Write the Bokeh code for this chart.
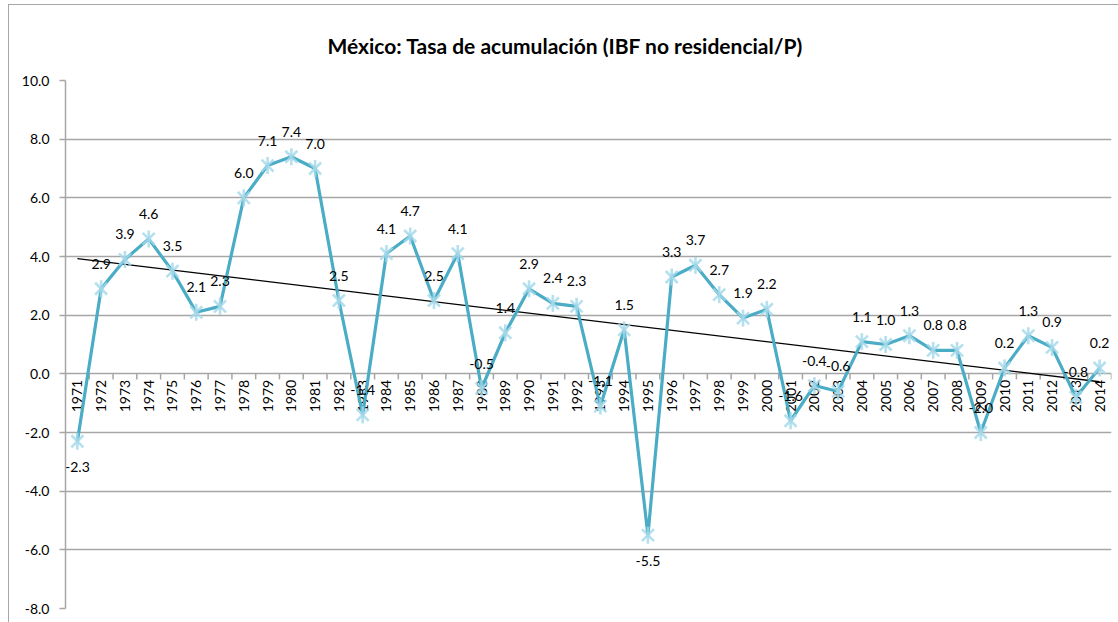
import numpy as np
from bokeh.plotting import figure
from bokeh.models import FactorRange, Range1d, FixedTicker, NumeralTickFormatter, ColumnDataSource
from bokeh.core.properties import value
from bokeh.embed import file_html
from bokeh.resources import INLINE

years = [str(y) for y in range(1971, 2015)]
tasa = [-2.3, 2.9, 3.9, 4.6, 3.5, 2.1, 2.3, 6.0, 7.1, 7.4,
        7.0, 2.5, -1.4, 4.1, 4.7, 2.5, 4.1, -0.5, 1.4, 2.9,
        2.4, 2.3, -1.1, 1.5, -5.5, 3.3, 3.7, 2.7, 1.9, 2.2,
        -1.6, -0.4, -0.6, 1.1, 1.0, 1.3, 0.8, 0.8, -2.0, 0.2,
        1.3, 0.9, -0.8, 0.2]
y_ticks = [-8, -6, -4, -2, 0, 2, 4, 6, 8, 10]
labels_below = ["1971", "1995"]

TITLE = "México: Tasa de acumulación (IBF no residencial/P)"
FONT = "Lato"

p = figure(width=1110, height=618, x_range=FactorRange(*years, range_padding=0),
           y_range=Range1d(-8, 10), output_backend="svg", toolbar_location=None,
           min_border_left=56, min_border_right=8, min_border_top=75, min_border_bottom=15,
           title=TITLE)
p.margin = (4, 0, 0, 8)
p.stylesheets = [":host { border-top: 1px solid #A6A6A6; border-left: 1px solid #A6A6A6; }"]
p.title.text_font = FONT
p.title.text_font_size = "21px"
p.title.text_font_style = "bold"
p.title.text_color = "#000000"
p.title.align = "left"
p.title.offset = 262
p.title.standoff = 45

p.outline_line_color = None
p.xgrid.grid_line_color = None
p.ygrid.grid_line_color = "#A6A6A6"
p.ygrid.grid_line_width = 1.5
p.ygrid.ticker = FixedTicker(ticks=y_ticks)

p.xaxis.visible = False
ya = p.yaxis[0]
ya.ticker = FixedTicker(ticks=y_ticks)
ya.formatter = NumeralTickFormatter(format="0.0")
ya.axis_line_color = "#A6A6A6"
ya.axis_line_width = 1.5
ya.major_tick_line_color = "#A6A6A6"
ya.major_tick_line_width = 1.5
ya.major_tick_out = 6
ya.major_tick_in = 0
ya.minor_tick_line_color = None
ya.major_label_text_font = FONT
ya.major_label_text_font_size = "14px"
ya.major_label_text_color = "#000000"
ya.major_label_standoff = 10

# category axis drawn at y = 0
idx = np.arange(len(years))
bounds = np.arange(len(years) + 1)
p.segment(x0=bounds, y0=0, x1=bounds, y1=-0.19, line_color="#A6A6A6", line_width=1.5)
p.text(x=years, y=[0] * len(years), text=years, angle=np.pi / 2,
       text_align="right", text_baseline="middle", y_offset=6,
       text_font=value(FONT), text_font_size="14px", text_color="#000000")

# trend line (least squares on the series)
slope, intercept = np.polyfit(idx, np.array(tasa), 1)
trend_y = [intercept + slope * idx[0], intercept + slope * idx[-1]]
p.line(x=[years[0], years[-1]], y=trend_y, line_color="#000000", line_width=1.3)

# series
src = ColumnDataSource(dict(x=years, y=tasa,
                            lab=["%.1f" % v for v in tasa],
                            off=[26 if yr in labels_below else -25 for yr in years]))
p.line(x="x", y="y", source=src, line_color="#4BACC6", line_width=3.2)
p.scatter(x="x", y="y", source=src, marker="x", size=17, line_color="#A3D8EA",
          line_width=2.6, line_alpha=0.8)
p.scatter(x="x", y="y", source=src, marker="dash", angle=np.pi / 2, size=17,
          line_color="#A3D8EA", line_width=2.6, line_alpha=0.8)
p.text(x="x", y="y", text="lab", source=src, y_offset="off",
       text_align="center", text_baseline="middle",
       text_font=value(FONT), text_font_size="14px", text_color="#000000")

open("out.html", "w").write(file_html(p, INLINE))
